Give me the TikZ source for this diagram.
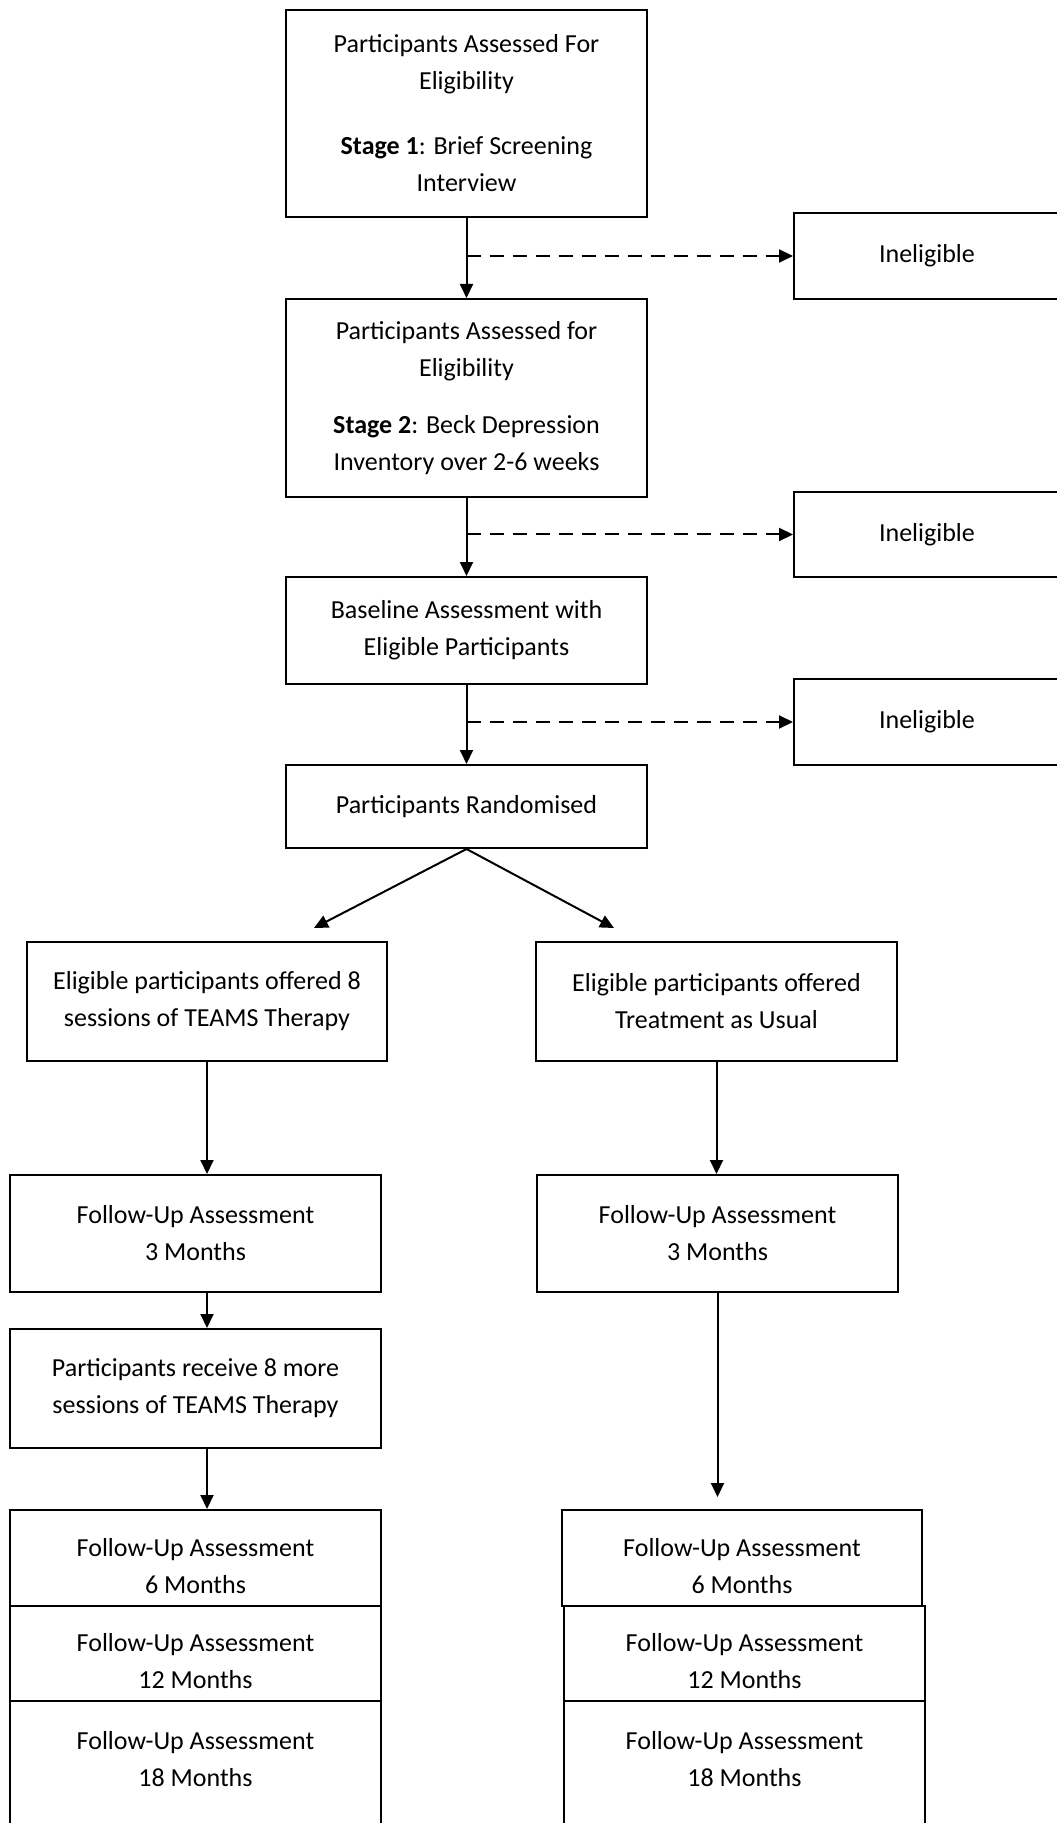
\documentclass[tikz,border=0pt]{standalone}
\usepackage{fontspec}
\setmainfont{Carlito}
\usetikzlibrary{arrows.meta}

\newcommand{\lowstrut}{\rule{0pt}{17pt}}
\newcommand{\deepstrut}{\rule[-7pt]{0pt}{7pt}}

\tikzset{
  box/.style={draw, line width=1pt, align=center, inner sep=0pt,
    font=\fontsize{13}{18.5}\selectfont},
  boxsize/.style 2 args={minimum width=#1, minimum height=#2},
  arrow/.style={line width=1pt, -{Triangle[length=7pt,width=6.5pt]}},
  dasharrow/.style={arrow, dash pattern=on 7pt off 4.5pt}
}

\begin{document}
\begin{tikzpicture}[x=0.5pt, y=-0.5pt]
\useasboundingbox (0,0) rectangle (1056,1823);

\node[box, boxsize={180.5pt}{103.5pt}] (b1) at (466.5,113.5) {Participants Assessed For\\ Eligibility\\[14pt] \textbf{Stage 1}: Brief Screening\\ Interview};
\node[box, boxsize={180.5pt}{99pt}] (b2) at (466.5,398) {Participants Assessed for\\ Eligibility\\[10pt] \textbf{Stage 2}: Beck Depression\\ Inventory over 2-6 weeks};
\node[box, boxsize={180.5pt}{53.5pt}] (b3) at (466.5,630.5) {Baseline Assessment with\\ Eligible Participants};
\node[box, boxsize={180.5pt}{41.5pt}] (b4) at (466.5,806.5) {Participants Randomised};

\node[box, boxsize={133pt}{43pt}] (i1) at (927,256) {Ineligible};
\node[box, boxsize={133pt}{42.5pt}] (i2) at (927,534.5) {Ineligible};
\node[box, boxsize={133pt}{43pt}] (i3) at (927,722) {Ineligible};

\node[box, boxsize={180pt}{59.5pt}] (b5) at (207,1001.5) {Eligible participants offered 8\\ sessions of TEAMS Therapy};
\node[box, boxsize={180.5pt}{59.5pt}] (b6) at (716.5,1001.5) {Eligible participants offered\\ Treatment as Usual};
\node[box, boxsize={185.5pt}{58.5pt}] (b7) at (195.5,1233.5) {Follow-Up Assessment\\ 3 Months};
\node[box, boxsize={180.5pt}{58.5pt}] (b8) at (717.5,1233.5) {Follow-Up Assessment\\ 3 Months};
\node[box, boxsize={185.5pt}{59.5pt}] (b9) at (195.5,1388.5) {Participants receive 8 more\\ sessions of TEAMS Therapy};

\node[box, boxsize={185.5pt}{48pt}] (l1) at (195.5,1558) {\lowstrut Follow-Up Assessment\\ 6 Months};
\node[box, boxsize={185.5pt}{47.5pt}] (l2) at (195.5,1653.5) {\lowstrut Follow-Up Assessment\\ 12 Months};
\node[box, boxsize={185.5pt}{65pt}] (l3) at (195.5,1766) {Follow-Up Assessment\\ 18 Months\deepstrut};
\node[box, boxsize={180pt}{48pt}] (r1) at (742,1558) {\lowstrut Follow-Up Assessment\\ 6 Months};
\node[box, boxsize={180.5pt}{47.5pt}] (r2) at (744.5,1653.5) {\lowstrut Follow-Up Assessment\\ 12 Months};
\node[box, boxsize={180.5pt}{65pt}] (r3) at (744.5,1766) {Follow-Up Assessment\\ 18 Months\deepstrut};

\coordinate (s1) at (314,928);
\coordinate (s2) at (614,928);
\coordinate (s3) at (717.5,1497);

\draw[arrow] (b1) -- (b2);
\draw[arrow] (b2) -- (b3);
\draw[arrow] (b3) -- (b4);
\draw[dasharrow] (b1.south |- i1.west) -- (i1.west);
\draw[dasharrow] (b2.south |- i2.west) -- (i2.west);
\draw[dasharrow] (b3.south |- i3.west) -- (i3.west);
\draw[arrow] (b4.south) -- (s1);
\draw[arrow] (b4.south) -- (s2);
\draw[arrow] (b5.south) -- (b5.south |- b7.north);
\draw[arrow] (b6.south) -- (b6.south |- b8.north);
\draw[arrow] (b7.south -| b5.south) -- (b9.north -| b5.south);
\draw[arrow] (b9.south -| b5.south) -- (l1.north -| b5.south);
\draw[arrow] (b8.south) -- (s3);

\end{tikzpicture}
\end{document}
